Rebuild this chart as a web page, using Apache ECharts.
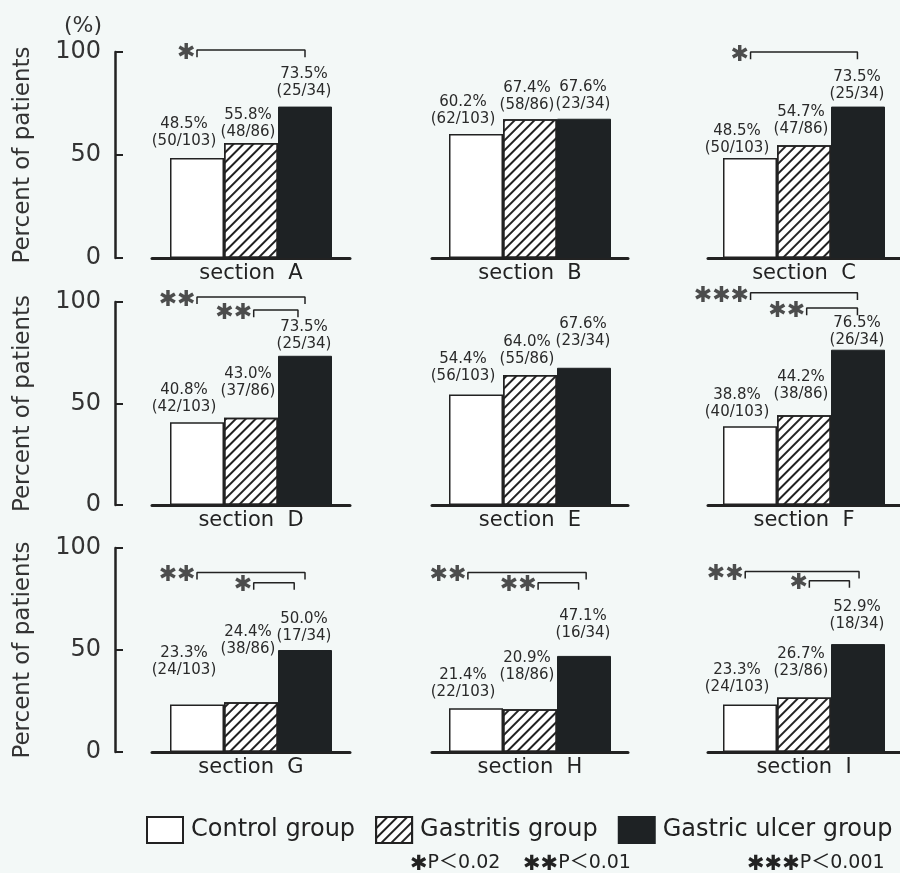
<!DOCTYPE html>
<html><head><meta charset="utf-8">
<script src="https://cdn.jsdelivr.net/npm/echarts@6/dist/echarts.min.js"></script>
<style>html,body{margin:0;padding:0;background:#f3f8f7}#c{width:900px;height:873px}</style>
</head><body><div id="c"></div>
<script>
// ---------------- data ----------------
const sections = ['section A','section B','section C','section D','section E','section F','section G','section H','section I'];
const groups = ['Control group','Gastritis group','Gastric ulcer group'];
const controlPct   = [48.5, 60.2, 48.5, 40.8, 54.4, 38.8, 23.3, 21.4, 23.3];
const gastritisPct = [55.8, 67.4, 54.7, 43.0, 64.0, 44.2, 24.4, 20.9, 26.7];
const ulcerPct     = [73.5, 67.6, 73.5, 73.5, 67.6, 76.5, 50.0, 47.1, 52.9];
const controlNum   = [50, 62, 50, 42, 56, 40, 24, 22, 24];
const gastritisNum = [48, 58, 47, 37, 55, 38, 38, 18, 23];
const ulcerNum     = [25, 23, 25, 25, 23, 26, 17, 16, 18];
const groupDen     = [103, 86, 34];
const yTicks = [0, 50, 100];
// significance brackets: panel, from bar, to bar, level (%), stars
const bracketPanel = [0, 2, 3, 3, 5, 5, 6, 6, 7, 7, 8, 8];
const bracketFrom  = [0, 0, 0, 1.05, 0, 1.05, 0, 1.05, -0.15, 1.15, -0.1, 1.1];
const bracketTo    = [2, 2, 2, 1.87, 2, 2, 2, 1.8, 2.04, 1.9, 2.03, 1.85];
const bracketLevel = [101, 100, 102.5, 96, 104.5, 97, 88, 83, 88, 83, 88.5, 84];
const bracketStars = ['✱', '✱', '✱✱', '✱✱', '✱✱✱', '✱✱', '✱✱', '✱', '✱✱', '✱✱', '✱✱', '✱'];
const pStars = ['✱', '✱✱', '✱✱✱'];
const pNotes = ['P＜0.02', 'P＜0.01', 'P＜0.001'];

// ---------------- layout (style only) ----------------
const colLeft = [152, 432, 708], colWidth = [198, 196, 194];
const rowTop = [52, 302, 548], rowHeight = [206, 203, 204];
const barW = 54;
const labelDx = [-13, -3, -1];
const labelLift = [
  [8, 2, 7], [6, 6, 6], [1, 8, 4],
  [7, 18, 3], [10, 7, 18], [6, 13, 1],
  [26, 45, 5], [8, 26, 14], [9, 18, 11]
];
const ink = '#222';
const FONT = "'DejaVu Sans', 'Noto Sans CJK JP', sans-serif";
const STARFONT = "'DejaVu Sans', 'Noto Sans CJK JP', sans-serif";

const pctByGroup = [controlPct, gastritisPct, ulcerPct];
const numByGroup = [controlNum, gastritisNum, ulcerNum];
const styles = [
  {color: '#ffffff', borderColor: ink, borderWidth: 1.5},
  {color: '#ffffff', borderColor: ink, borderWidth: 1.5,
   decal: {symbol: 'rect', symbolSize: 1, dashArrayX: [1, 0], dashArrayY: [1.6, 5], rotation: -Math.PI / 4, color: ink}},
  {color: '#1e2224', borderColor: '#1e2224', borderWidth: 1}
];

const grid = [], xAxis = [], yAxis = [], series = [];
for (let p = 0; p < 9; p++) {
  const r = Math.floor(p / 3), c = p % 3;
  grid.push({left: colLeft[c], width: colWidth[c], top: rowTop[r], height: rowHeight[r]});
  xAxis.push({
    gridIndex: p, type: 'category', data: [sections[p]],
    axisLine: {onZero: false, lineStyle: {color: ink, width: 3}}, axisTick: {show: false},
    axisLabel: {fontSize: 21, color: ink, margin: 5, fontFamily: FONT, formatter: v => v.replace(' ', '  ')}
  });
  const half = colWidth[c] / 2 / barW;
  xAxis.push({gridIndex: p, type: 'value', min: 1 - half, max: 1 + half, show: false});
  yAxis.push({
    gridIndex: p, type: 'value', min: yTicks[0], max: yTicks[2], interval: yTicks[1] - yTicks[0],
    show: c === 0, position: 'left', offset: 37,
    axisLine: {show: true, onZero: false, lineStyle: {color: ink, width: 2.5}},
    axisTick: {show: true, inside: true, length: 8, lineStyle: {color: ink, width: 2}},
    axisLabel: {fontSize: 24, color: '#333', margin: 14, fontFamily: FONT},
    splitLine: {show: false},
    name: 'Percent of patients', nameLocation: 'middle', nameRotate: 90, nameGap: 80,
    nameTextStyle: {fontSize: 23, color: '#333', fontFamily: FONT}
  });
  for (let g = 0; g < 3; g++) {
    const pct = pctByGroup[g][p], num = numByGroup[g][p], den = groupDen[g];
    series.push({
      type: 'bar', name: groups[g], xAxisIndex: p * 2, yAxisIndex: p,
      barWidth: barW, barGap: '0%', itemStyle: styles[g], animation: false,
      label: {show: true, position: 'top', distance: 0, fontSize: 15, lineHeight: 17,
              color: '#2a2a2a', fontFamily: FONT,
              formatter: () => pct.toFixed(1) + '%\n(' + num + '/' + den + ')'},
      data: [{value: pct, label: {offset: [labelDx[g], -labelLift[p][g]]}}]
    });
  }
}
// "(%)" unit axis on first panel
yAxis.push({
  gridIndex: 0, type: 'value', min: 0, max: 100, position: 'left', offset: 37,
  axisLine: {show: false, onZero: false}, axisTick: {show: false}, axisLabel: {show: false}, splitLine: {show: false},
  name: '(%)', nameLocation: 'end', nameGap: 15,
  nameTextStyle: {fontSize: 22, color: '#333', fontFamily: FONT, align: 'right', padding: [0, 13, 0, 0]}
});

const tick = 3.5;
for (let i = 0; i < bracketPanel.length; i++) {
  const p = bracketPanel[i], a = bracketFrom[i], b = bracketTo[i], L = bracketLevel[i];
  series.push({
    type: 'line', xAxisIndex: p * 2 + 1, yAxisIndex: p, symbol: 'none', clip: false,
    silent: true, animation: false, z: 5,
    lineStyle: {color: ink, width: 1.5},
    data: [[a, L - tick], [a, L], [b, L], [b, L - tick]]
  });
  series.push({
    type: 'scatter', xAxisIndex: p * 2 + 1, yAxisIndex: p, clip: false, silent: true,
    animation: false, symbolSize: 1, itemStyle: {color: 'rgba(0,0,0,0)'}, z: 5,
    label: {show: true, position: 'left', distance: 1, fontSize: 22, color: ink, offset: [0, 3],
            fontFamily: STARFONT, formatter: () => bracketStars[i]},
    data: [[a, L]]
  });
}

const pLeft = [405, 518, 742];
const title = pNotes.map((t, i) => ({
  text: '{s|' + pStars[i] + '}' + t, left: pLeft[i], top: 846,
  textStyle: {fontSize: 19, fontWeight: 'normal', color: ink, fontFamily: FONT,
    rich: {s: {fontSize: 21, color: ink, fontFamily: STARFONT, padding: [3, 0, 0, 0]}}}
}));

const chart = echarts.init(document.getElementById('c'));
chart.setOption({
  backgroundColor: '#f3f8f7',
  animation: false,
  title: title,
  grid: grid, xAxis: xAxis, yAxis: yAxis, series: series,
  legend: {
    data: groups, left: 146, top: 816, itemWidth: 36, itemHeight: 26, itemGap: 20,
    padding: 0, icon: 'rect',
    textStyle: {fontSize: 24, color: ink, fontFamily: FONT, padding: [0, 0, 0, 3]}
  }
});
</script></body></html>
